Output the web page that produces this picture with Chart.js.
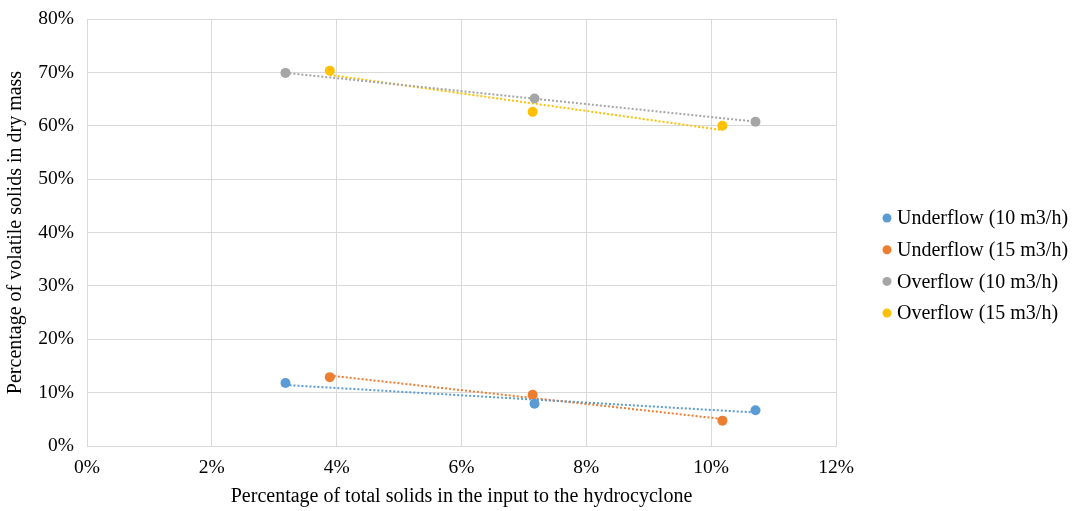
<!DOCTYPE html>
<html>
<head>
<meta charset="utf-8">
<script src="https://cdn.jsdelivr.net/npm/chart.js@4.4.0/dist/chart.umd.min.js"></script>
<style>
  html, body { margin: 0; padding: 0; background: #fff; }
  #wrap { width: 1074px; height: 511px; }
</style>
</head>
<body>
<div id="wrap"><canvas id="chart"></canvas></div>
<script>
// total solids in the input (%), one list per flow rate
const solids10 = [3.18, 7.17, 10.71];
const solids15 = [3.89, 7.14, 10.18];

// volatile solids in dry mass (%)
const underflow10 = [11.8, 7.9, 6.7];
const underflow15 = [12.9, 9.6, 4.75];
const overflow10 = [69.9, 65.1, 60.75];
const overflow15 = [70.3, 62.6, 60.0];

const seriesNames = ["Underflow (10 m3/h)", "Underflow (15 m3/h)", "Overflow (10 m3/h)", "Overflow (15 m3/h)"];
const seriesColors = ["#5B9BD5", "#ED7D31", "#A5A5A5", "#FFC000"];
const xTicks = [0, 2, 4, 6, 8, 10, 12];

const FONT = "'Liberation Serif', 'Times New Roman', serif";

function toPoints(xs, ys) {
  return xs.map((x, i) => ({ x: x, y: ys[i] }));
}

// least squares line, like the Excel linear trendline
function trend(xs, ys) {
  const n = xs.length;
  const mx = xs.reduce((a, b) => a + b, 0) / n;
  const my = ys.reduce((a, b) => a + b, 0) / n;
  let sxy = 0, sxx = 0;
  xs.forEach((x, i) => {
    sxy += (x - mx) * (ys[i] - my);
    sxx += (x - mx) * (x - mx);
  });
  const slope = sxy / sxx;
  const lo = Math.min(...xs), hi = Math.max(...xs);
  return [
    { x: lo, y: my + slope * (lo - mx) },
    { x: hi, y: my + slope * (hi - mx) },
  ];
}

const pairs = [
  [solids10, underflow10],
  [solids15, underflow15],
  [solids10, overflow10],
  [solids15, overflow15],
];

const pointSets = pairs.map((p, i) => ({
  label: seriesNames[i],
  data: toPoints(p[0], p[1]),
  backgroundColor: seriesColors[i],
  borderColor: seriesColors[i],
  pointRadius: 5,
  pointBorderWidth: 0,
  showLine: false,
}));

const trendSets = pairs.map((p, i) => ({
  label: "trend",
  data: trend(p[0], p[1]),
  borderColor: seriesColors[i],
  borderWidth: 2,
  borderDash: [2, 2],
  pointRadius: 0,
  showLine: true,
  fill: false,
}));

const legendPlugin = {
  id: "sideLegend",
  afterDraw(chart) {
    const ctx = chart.ctx;
    ctx.save();
    ctx.font = "20px " + FONT;
    ctx.textBaseline = "middle";
    ctx.textAlign = "left";
    seriesNames.forEach((name, i) => {
      const y = 218 + i * 31.7;
      ctx.fillStyle = seriesColors[i];
      ctx.beginPath();
      ctx.arc(887, y, 4.5, 0, Math.PI * 2);
      ctx.fill();
      ctx.fillStyle = "#000";
      ctx.fillText(name, 897, y + 1);
    });
    ctx.restore();
  },
};

new Chart(document.getElementById("chart"), {
  type: "scatter",
  data: { datasets: pointSets.concat(trendSets) },
  plugins: [legendPlugin],
  options: {
    responsive: true,
    maintainAspectRatio: false,
    animation: false,
    layout: { padding: { left: 4, right: 238, top: 19, bottom: 2 } },
    plugins: {
      legend: { display: false },
      tooltip: { enabled: false },
    },
    scales: {
      x: {
        type: "linear",
        min: 0,
        max: 12,
        afterBuildTicks: (scale) => {
          scale.ticks = xTicks.map((v) => ({ value: v }));
        },
        ticks: {
          font: { family: FONT, size: 19.5 },
          color: "#000",
          padding: 10,
          callback: (v) => v + "%",
        },
        grid: { color: "#D9D9D9", drawTicks: false },
        border: { color: "#D9D9D9" },
        title: {
          display: true,
          text: "Percentage of total solids in the input to the hydrocyclone",
          font: { family: FONT, size: 20 },
          color: "#000",
          padding: { top: 6, bottom: 0 },
        },
        afterFit: (scale) => { scale.height = 63; },
      },
      y: {
        min: 0,
        max: 80,
        ticks: {
          stepSize: 10,
          font: { family: FONT, size: 19.5 },
          color: "#000",
          padding: 13,
          callback: (v) => v + "%",
        },
        grid: { color: "#D9D9D9", drawTicks: false },
        border: { color: "#D9D9D9" },
        title: {
          display: true,
          text: "Percentage of volatile solids in dry mass",
          font: { family: FONT, size: 20 },
          color: "#000",
          padding: { top: 0, bottom: 4 },
        },
        afterFit: (scale) => {
          scale.width = 83;
          scale.paddingTop = 0;
          scale.paddingBottom = 0;
        },
      },
    },
  },
});
</script>
</body>
</html>
